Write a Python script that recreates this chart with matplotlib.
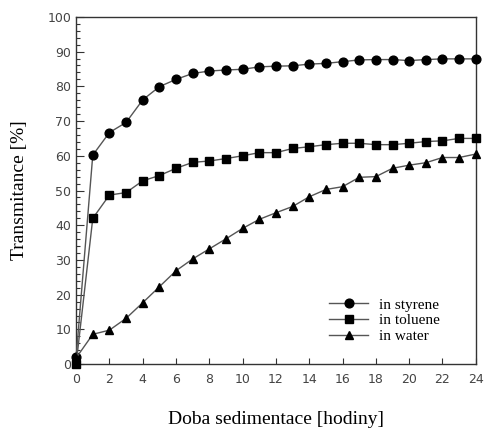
import numpy as np
import matplotlib
matplotlib.use("Agg")
import matplotlib.pyplot as plt
from matplotlib.ticker import MultipleLocator

# data
hours = list(range(0, 25))
styrene = [2, 60.2, 66.7, 69.6, 76.1, 79.9, 82.0, 83.7, 84.4, 84.7, 84.9, 85.6, 85.8,
           85.9, 86.4, 86.6, 87.1, 87.6, 87.7, 87.7, 87.4, 87.7, 87.9, 87.9, 87.9]
toluene = [0, 42.0, 48.7, 49.4, 52.8, 54.3, 56.4, 58.1, 58.5, 59.2, 60.0, 60.9, 60.9,
           62.1, 62.6, 63.2, 63.6, 63.6, 63.2, 63.2, 63.6, 64.1, 64.3, 65.0, 65.0]
water = [1.8, 8.6, 9.8, 13.2, 17.7, 22.3, 26.9, 30.3, 33.2, 36.1, 39.1, 41.7, 43.6,
         45.4, 48.2, 50.3, 51.1, 53.8, 54.0, 56.4, 57.3, 58.0, 59.5, 59.5, 60.5]

fig = plt.figure(figsize=(4.88, 4.32), dpi=100)
ax = fig.add_axes([0.156, 0.157, 0.819, 0.804])

line_kw = dict(color="#555555", linewidth=1.0, markerfacecolor="black",
               markeredgecolor="black", clip_on=False, zorder=3)
ax.plot(hours, styrene, marker="o", markersize=6.3, label="in styrene", **line_kw)
ax.plot(hours, toluene, marker="s", markersize=5.8, label="in toluene", **line_kw)
ax.plot(hours, water, marker="^", markersize=5.8, label="in water", **line_kw)

ax.set_xlim(0, 24)
ax.set_ylim(0, 100)
ax.xaxis.set_major_locator(MultipleLocator(2))
ax.yaxis.set_major_locator(MultipleLocator(10))
ax.yaxis.set_minor_locator(MultipleLocator(2))
ax.tick_params(axis="both", which="both", direction="in", top=False, right=False,
               labelsize=9, colors="#333333", width=0.8)
ax.tick_params(axis="both", which="both", labelcolor="#444444")
ax.tick_params(axis="y", which="major", length=6)
ax.tick_params(axis="y", which="minor", length=3)
ax.tick_params(axis="x", which="major", length=4, pad=6)
for lab in ax.get_xticklabels() + ax.get_yticklabels():
    lab.set_family("DejaVu Sans")
for sp in ax.spines.values():
    sp.set_linewidth(1.0)
    sp.set_color("#333333")

ax.set_xlabel("Doba sedimentace [hodiny]", family="Liberation Serif", fontsize=14, labelpad=18)
ax.set_ylabel("Transmitance [%]", family="Liberation Serif", fontsize=14, labelpad=14)

leg = ax.legend(loc="lower right", bbox_to_anchor=(0.945, 0.02), frameon=False,
                prop={"family": "Liberation Serif", "size": 11},
                handlelength=2.6, labelspacing=0.15, handletextpad=0.7)

fig.savefig("out.png", dpi=100)
